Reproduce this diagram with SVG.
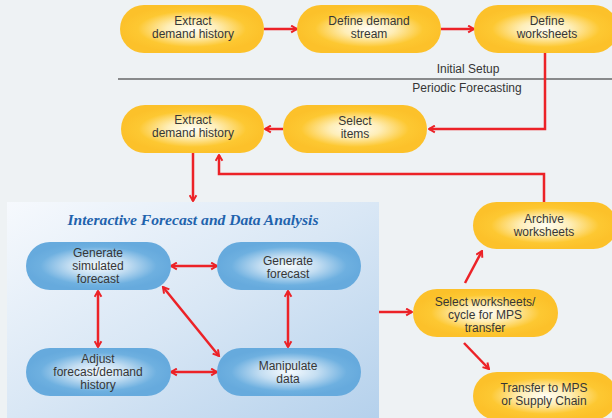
<svg xmlns="http://www.w3.org/2000/svg" width="612" height="418" viewBox="0 0 612 418">
<defs>
<style>
.t{font-family:"Liberation Sans",Arial,sans-serif;font-size:12px;fill:#363636;text-anchor:middle}
.c{fill:none;stroke:#ec2227;stroke-width:2.5}
.a{marker-end:url(#ah)}
.d{marker-start:url(#ah);marker-end:url(#ah)}
.y{fill:url(#yg)}
.b{fill:url(#bg)}
</style>
<radialGradient id="yg" cx="0.5" cy="0.5" r="0.5">
<stop offset="0" stop-color="#fffdf6"/>
<stop offset="0.35" stop-color="#feeeb8"/>
<stop offset="0.75" stop-color="#fdc832"/>
<stop offset="1" stop-color="#fcc12a"/>
</radialGradient>
<radialGradient id="bg" cx="0.5" cy="0.5" r="0.5">
<stop offset="0" stop-color="#f7fbfe"/>
<stop offset="0.4" stop-color="#c4def2"/>
<stop offset="0.8" stop-color="#6eb0e0"/>
<stop offset="1" stop-color="#66aadd"/>
</radialGradient>
<linearGradient id="panel" x1="0" y1="0" x2="1" y2="1">
<stop offset="0" stop-color="#f6f9fd"/>
<stop offset="0.5" stop-color="#d9e7f5"/>
<stop offset="1" stop-color="#b5d1ec"/>
</linearGradient>
<marker id="ah" viewBox="0 0 10 10" refX="8.5" refY="5" markerWidth="9" markerHeight="9" markerUnits="userSpaceOnUse" orient="auto-start-reverse">
<path d="M2,1.2 L8.5,5 L2,8.8" fill="none" stroke="#ec2227" stroke-width="2.2"/>
</marker>
</defs>
<rect width="612" height="418" fill="#eef2f4"/>
<rect id="panel-bg" x="7" y="202" width="372" height="216" fill="url(#panel)"/>
<text x="193" y="225" font-family="'Liberation Serif','Times New Roman',serif" font-size="14" font-weight="bold" font-style="italic" fill="#1f63ad" text-anchor="middle" textLength="251" lengthAdjust="spacingAndGlyphs">Interactive Forecast and Data Analysis</text>
<line x1="118" y1="79" x2="612" y2="79" stroke="#222" stroke-width="1.2"/>
<text class="t" x="468" y="73">Initial Setup</text>
<text class="t" x="467" y="92">Periodic Forecasting</text>
<g id="connectors">
<line class="c a" x1="264" y1="29" x2="297" y2="29"/>
<line class="c a" x1="441" y1="29" x2="474" y2="29"/>
<polyline class="c a" points="545,53 545,129 429,129"/>
<line class="c a" x1="283" y1="129" x2="265" y2="129"/>
<line class="c a" x1="193" y1="153" x2="193" y2="201"/>
<polyline class="c a" points="544,202 544,174 219,174 219,155"/>
<line class="c a" x1="379" y1="312" x2="412" y2="312"/>
<line class="c a" x1="465" y1="283" x2="482" y2="251"/>
<line class="c a" x1="464" y1="343" x2="489" y2="369"/>
<line class="c d" x1="171" y1="266" x2="217" y2="266"/>
<line class="c d" x1="98" y1="291" x2="98" y2="347"/>
<line class="c d" x1="288" y1="291" x2="288" y2="347"/>
<line class="c d" x1="171" y1="372" x2="217" y2="372"/>
<line class="c d" x1="163" y1="287" x2="219" y2="356"/>
</g>
<g id="n-extract-1"><rect class="y" x="120" y="5" width="144" height="48" rx="24"/><text class="t" x="193" y="25">Extract</text><text class="t" x="193" y="38">demand history</text></g>
<g id="n-define-stream"><rect class="y" x="297" y="5" width="144" height="48" rx="24"/><text class="t" x="369" y="25">Define demand</text><text class="t" x="369" y="38">stream</text></g>
<g id="n-define-worksheets"><rect class="y" x="474" y="5" width="144" height="48" rx="24"/><text class="t" x="547" y="25">Define</text><text class="t" x="547" y="38">worksheets</text></g>
<g id="n-extract-2"><rect class="y" x="121" y="105" width="143" height="48" rx="24"/><text class="t" x="193" y="124">Extract</text><text class="t" x="193" y="137">demand history</text></g>
<g id="n-select-items"><rect class="y" x="283" y="105" width="144" height="48" rx="24"/><text class="t" x="355" y="125">Select</text><text class="t" x="355" y="138">items</text></g>
<g id="n-archive"><rect class="y" x="473" y="202" width="144" height="47" rx="23.5"/><text class="t" x="544" y="223">Archive</text><text class="t" x="544" y="236">worksheets</text></g>
<g id="n-select-worksheets"><rect class="y" x="413" y="289" width="145" height="48" rx="24"/><text class="t" x="485" y="306">Select worksheets/</text><text class="t" x="485" y="319">cycle for MPS</text><text class="t" x="485" y="332">transfer</text></g>
<g id="n-transfer"><rect class="y" x="473" y="372" width="144" height="48" rx="24"/><text class="t" x="544" y="392">Transfer to MPS</text><text class="t" x="544" y="405">or Supply Chain</text></g>
<g id="n-gen-sim"><rect class="b" x="26" y="242" width="145" height="48" rx="24"/><text class="t" x="98" y="257">Generate</text><text class="t" x="98" y="270">simulated</text><text class="t" x="98" y="283">forecast</text></g>
<g id="n-gen-forecast"><rect class="b" x="217" y="242" width="144" height="48" rx="24"/><text class="t" x="288" y="265">Generate</text><text class="t" x="288" y="278">forecast</text></g>
<g id="n-adjust"><rect class="b" x="26" y="348" width="145" height="48" rx="24"/><text class="t" x="98" y="363">Adjust</text><text class="t" x="98" y="376">forecast/demand</text><text class="t" x="98" y="389">history</text></g>
<g id="n-manipulate"><rect class="b" x="217" y="348" width="144" height="48" rx="24"/><text class="t" x="288" y="370">Manipulate</text><text class="t" x="288" y="383">data</text></g>
</svg>
